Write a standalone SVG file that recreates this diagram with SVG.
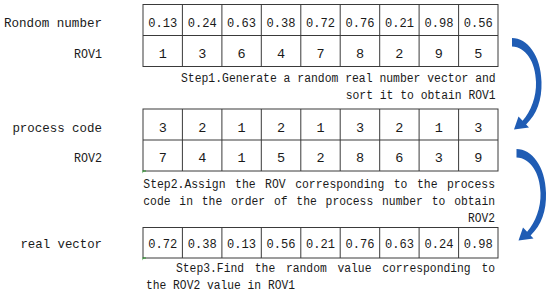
<svg xmlns="http://www.w3.org/2000/svg" xmlns:xlink="http://www.w3.org/1999/xlink" width="550" height="299" viewBox="0 0 550 299">
<style>
text{font-family:"Liberation Mono","DejaVu Sans Mono",monospace;fill:#1a1a1a}
.lb{font-size:13.5px;text-anchor:end}
.v{font-size:13.5px;text-anchor:middle}
.st{font-size:12.5px}
.g{fill:none;stroke:#3a3a3a;stroke-width:1}
.arr{fill:#1f5cb4}
.mk{fill:#2a9a2a}
</style>
<defs>
<path id="carrow" class="arr" d="M512,38 C527,38 541,55 541.5,82 C542,100 537,114 526.1,124.4 L529,127.5 L514,129.5 L518.5,116.5 L522.6,120.8 C531,111 536.5,97 536,82 C535.5,62 526,47 512,46.5 Z"/>
</defs>

<g id="labels">
<text class="lb" x="102" y="27" textLength="98" lengthAdjust="spacingAndGlyphs">Rondom number</text>
<text class="lb" x="102" y="58" textLength="28" lengthAdjust="spacingAndGlyphs">ROV1</text>
<text class="lb" x="102" y="131.7" textLength="89.6" lengthAdjust="spacingAndGlyphs">process code</text>
<text class="lb" x="102" y="162.3" textLength="28" lengthAdjust="spacingAndGlyphs">ROV2</text>
<text class="lb" x="102" y="248.3" textLength="81.6" lengthAdjust="spacingAndGlyphs">real vector</text>
</g>

<g id="table1">
<rect class="g" x="143" y="4.5" width="355" height="62"/>
<path class="g" d="M143,35.5H498 M182.4,4.5V66.5 M221.9,4.5V66.5 M261.3,4.5V66.5 M300.8,4.5V66.5 M340.2,4.5V66.5 M379.7,4.5V66.5 M419.1,4.5V66.5 M458.6,4.5V66.5"/>
<text class="v" x="162.7" y="26.7" textLength="29" lengthAdjust="spacingAndGlyphs">0.13</text>
<text class="v" x="202.2" y="26.7" textLength="29" lengthAdjust="spacingAndGlyphs">0.24</text>
<text class="v" x="241.6" y="26.7" textLength="29" lengthAdjust="spacingAndGlyphs">0.63</text>
<text class="v" x="281.1" y="26.7" textLength="29" lengthAdjust="spacingAndGlyphs">0.38</text>
<text class="v" x="320.5" y="26.7" textLength="29" lengthAdjust="spacingAndGlyphs">0.72</text>
<text class="v" x="360" y="26.7" textLength="29" lengthAdjust="spacingAndGlyphs">0.76</text>
<text class="v" x="399.4" y="26.7" textLength="29" lengthAdjust="spacingAndGlyphs">0.21</text>
<text class="v" x="438.9" y="26.7" textLength="29" lengthAdjust="spacingAndGlyphs">0.98</text>
<text class="v" x="478.3" y="26.7" textLength="29" lengthAdjust="spacingAndGlyphs">0.56</text>
<text class="v" x="162.7" y="58">1</text>
<text class="v" x="202.2" y="58">3</text>
<text class="v" x="241.6" y="58">6</text>
<text class="v" x="281.1" y="58">4</text>
<text class="v" x="320.5" y="58">7</text>
<text class="v" x="360" y="58">8</text>
<text class="v" x="399.4" y="58">2</text>
<text class="v" x="438.9" y="58">9</text>
<text class="v" x="478.3" y="58">5</text>
</g>

<g id="step1">
<text class="st" x="181" y="81.7" textLength="314.7" lengthAdjust="spacingAndGlyphs">Step1.Generate a random real number vector and</text>
<text class="st" x="345.7" y="99" textLength="150" lengthAdjust="spacingAndGlyphs">sort it to obtain ROV1</text>
</g>

<g id="table2">
<rect class="g" x="143" y="109" width="355" height="62"/>
<path class="g" d="M143,140H498 M182.4,109V171 M221.9,109V171 M261.3,109V171 M300.8,109V171 M340.2,109V171 M379.7,109V171 M419.1,109V171 M458.6,109V171"/>
<path class="mk" d="M142.5,170.5 L146,170.5 L146,171.5 L143.5,171.5 L142.5,173.5 Z"/>
<text class="v" x="162.7" y="131.7">3</text>
<text class="v" x="202.2" y="131.7">2</text>
<text class="v" x="241.6" y="131.7">1</text>
<text class="v" x="281.1" y="131.7">2</text>
<text class="v" x="320.5" y="131.7">1</text>
<text class="v" x="360" y="131.7">3</text>
<text class="v" x="399.4" y="131.7">2</text>
<text class="v" x="438.9" y="131.7">1</text>
<text class="v" x="478.3" y="131.7">3</text>
<text class="v" x="162.7" y="162.3">7</text>
<text class="v" x="202.2" y="162.3">4</text>
<text class="v" x="241.6" y="162.3">1</text>
<text class="v" x="281.1" y="162.3">5</text>
<text class="v" x="320.5" y="162.3">2</text>
<text class="v" x="360" y="162.3">8</text>
<text class="v" x="399.4" y="162.3">6</text>
<text class="v" x="438.9" y="162.3">3</text>
<text class="v" x="478.3" y="162.3">9</text>
</g>

<g id="step2">
<text class="st" x="143.3" y="188.3" textLength="351.7" lengthAdjust="spacingAndGlyphs" word-spacing="2.9">Step2.Assign the ROV corresponding to the process</text>
<text class="st" x="143.3" y="205" textLength="351.7" lengthAdjust="spacingAndGlyphs" word-spacing="2.25">code in the order of the process number to obtain</text>
<text class="st" x="468" y="222" textLength="27" lengthAdjust="spacingAndGlyphs">ROV2</text>
</g>

<g id="table3">
<rect class="g" x="143" y="227.5" width="355" height="30.5"/>
<path class="g" d="M182.4,227.5V258 M221.9,227.5V258 M261.3,227.5V258 M300.8,227.5V258 M340.2,227.5V258 M379.7,227.5V258 M419.1,227.5V258 M458.6,227.5V258"/>
<path class="mk" d="M142.5,257.5 L146,257.5 L146,258.5 L143.5,258.5 L142.5,260.5 Z"/>
<text class="v" x="162.7" y="248.3" textLength="29" lengthAdjust="spacingAndGlyphs">0.72</text>
<text class="v" x="202.2" y="248.3" textLength="29" lengthAdjust="spacingAndGlyphs">0.38</text>
<text class="v" x="241.6" y="248.3" textLength="29" lengthAdjust="spacingAndGlyphs">0.13</text>
<text class="v" x="281.1" y="248.3" textLength="29" lengthAdjust="spacingAndGlyphs">0.56</text>
<text class="v" x="320.5" y="248.3" textLength="29" lengthAdjust="spacingAndGlyphs">0.21</text>
<text class="v" x="360" y="248.3" textLength="29" lengthAdjust="spacingAndGlyphs">0.76</text>
<text class="v" x="399.4" y="248.3" textLength="29" lengthAdjust="spacingAndGlyphs">0.63</text>
<text class="v" x="438.9" y="248.3" textLength="29" lengthAdjust="spacingAndGlyphs">0.24</text>
<text class="v" x="478.3" y="248.3" textLength="29" lengthAdjust="spacingAndGlyphs">0.98</text>
</g>

<g id="step3">
<text class="st" x="176" y="271.7" textLength="319" lengthAdjust="spacingAndGlyphs" word-spacing="4.3">Step3.Find the random value corresponding to</text>
<text class="st" x="146" y="289" textLength="149" lengthAdjust="spacingAndGlyphs">the ROV2 value in ROV1</text>
</g>

<g id="connectors">
<use xlink:href="#carrow"/>
<use xlink:href="#carrow" transform="translate(4.5,111)"/>
</g>
</svg>
